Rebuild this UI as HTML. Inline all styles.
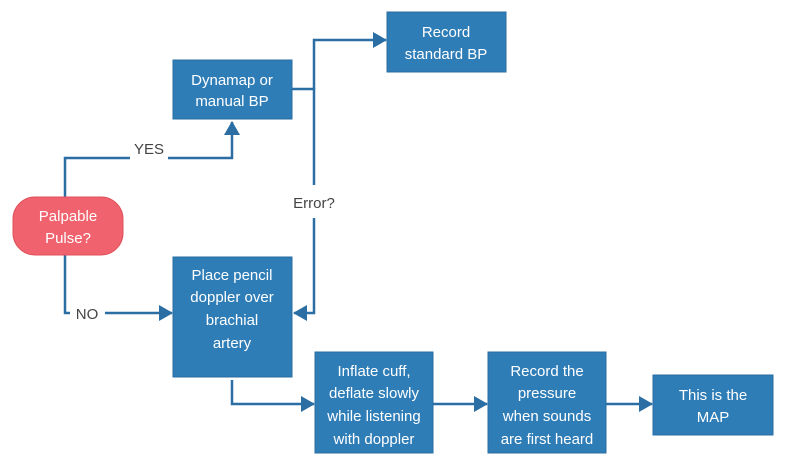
<!DOCTYPE html>
<html><head><style>
body{margin:0;background:#fff;}
svg text{font-family:"Liberation Sans",sans-serif;}
</style></head><body>
<svg width="785" height="470" viewBox="0 0 785 470" xmlns="http://www.w3.org/2000/svg">
<defs><marker id="a" markerWidth="10" markerHeight="10" refX="9" refY="5" orient="auto" markerUnits="userSpaceOnUse"><path d="M0,0 L10,5 L0,10 Z" fill="#2b6ea3"/></marker>
<marker id="b" markerWidth="14" markerHeight="16" refX="13" refY="8" orient="auto" markerUnits="userSpaceOnUse"><path d="M0,0 L14,8 L0,16 Z" fill="#2b6ea3"/></marker></defs>
<g fill="none" stroke="#2b6ea3" stroke-width="2.5">
<path d="M65,197 V158 H130 M168,158 H232 V122" marker-end="url(#b)"/>
<path d="M292,89 H314 V185 M314,218 V313 H294" marker-end="url(#b)"/>
<path d="M314,89 V40 H386" marker-end="url(#b)"/>
<path d="M65,255 V313 H70 M105,313 H172" marker-end="url(#b)"/>
<path d="M232,380 V404 H314" marker-end="url(#b)"/>
<path d="M433,404 H487" marker-end="url(#b)"/>
<path d="M606,404 H652" marker-end="url(#b)"/>
</g>
<g fill="#2f7db7" stroke="#2a6da1" stroke-width="1">
<rect x="387" y="12" width="119" height="60"/>
<rect x="173" y="60" width="119" height="59"/>
<rect x="173" y="257" width="119" height="120"/>
<rect x="315" y="352" width="118" height="101"/>
<rect x="488" y="352" width="118" height="101"/>
<rect x="653" y="375" width="120" height="60"/>
</g>
<rect x="13" y="197" width="110" height="58" rx="22" fill="#f0626d" stroke="#e0505b"/>
<g fill="#fff" font-size="15" text-anchor="middle">
<text x="446" y="37">Record</text><text x="446" y="59">standard BP</text>
<text x="232" y="85">Dynamap or</text><text x="232" y="106">manual BP</text>
<text x="68" y="221">Palpable</text><text x="68" y="243">Pulse?</text>
<text x="232" y="280">Place pencil</text><text x="232" y="302">doppler over</text><text x="232" y="325">brachial</text><text x="232" y="348">artery</text>
<text x="374" y="376">Inflate cuff,</text><text x="374" y="398">deflate slowly</text><text x="374" y="421">while listening</text><text x="374" y="444">with doppler</text>
<text x="547" y="376">Record the</text><text x="547" y="398">pressure</text><text x="547" y="421">when sounds</text><text x="547" y="444">are first heard</text>
<text x="713" y="400">This is the</text><text x="713" y="422">MAP</text>
</g>
<g fill="#444" font-size="15" text-anchor="middle">
<text x="149" y="154">YES</text>
<text x="314" y="208">Error?</text>
<text x="87" y="319">NO</text>
</g>
</svg>
</body></html>
